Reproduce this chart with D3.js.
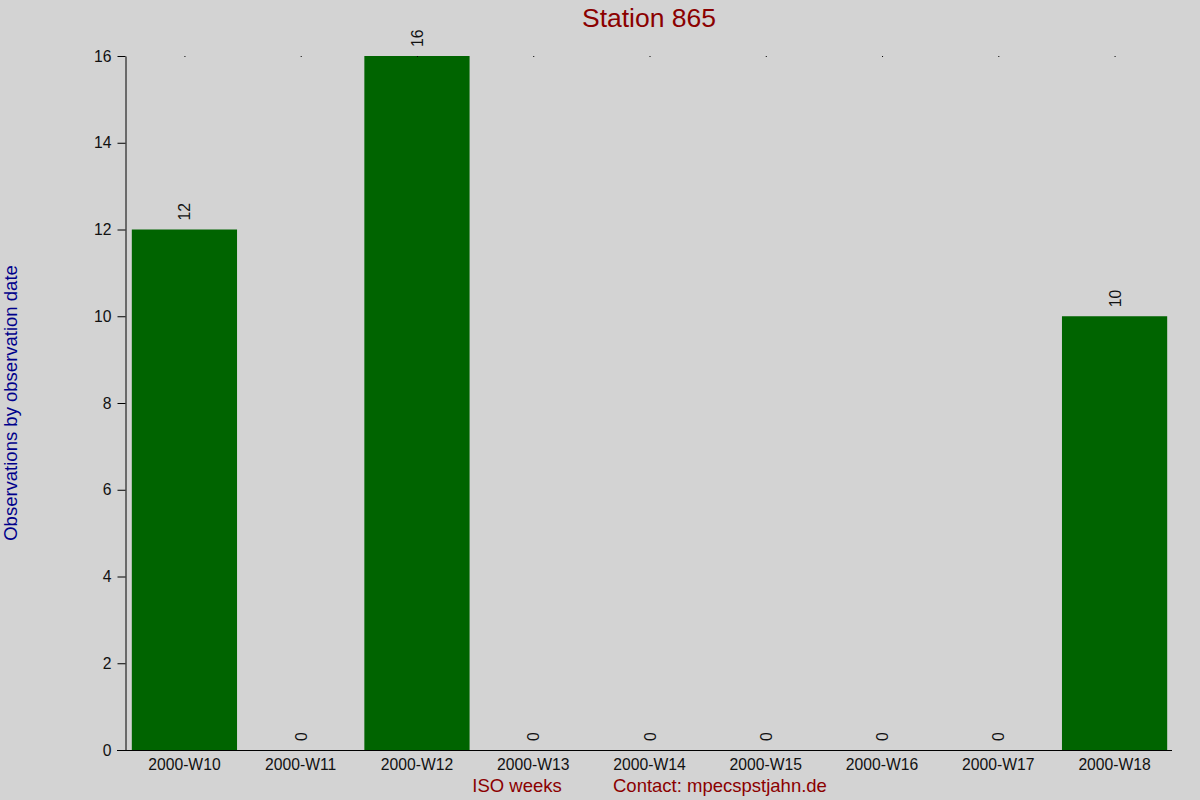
<!DOCTYPE html>
<html lang="en">
	<head>
		<meta charset="UTF-8">
		<title>Station 865</title>
		<script src="https://cdnjs.cloudflare.com/ajax/libs/d3/7.8.5/d3.min.js"></script>
		<style>
			body { margin: 0; background: lightgrey; }
			text { font-family: "Liberation Sans", Arial, sans-serif; }
		</style>
		<script>
var weeks = ["2000-W10", "2000-W11", "2000-W12", "2000-W13", "2000-W14", "2000-W15", "2000-W16", "2000-W17", "2000-W18"];
var counts = [12, 0, 16, 0, 0, 0, 0, 0, 10];
var yTicks = [0, 2, 4, 6, 8, 10, 12, 14, 16];

function makeChart() {
	var svg = d3.select("svg");

	var scX = d3.scaleBand().domain(weeks).range([126, 1173]).paddingInner(0.095).paddingOuter(0.05);
	var scY = d3.scaleLinear().domain([0, 16]).range([750, 56]);

	// bars
	svg.append("g").selectAll("rect").data(weeks).enter()
		.append("rect")
		.attr("x", d => scX(d))
		.attr("width", scX.bandwidth())
		.attr("y", (d, i) => scY(counts[i]))
		.attr("height", (d, i) => scY(0) - scY(counts[i]))
		.attr("fill", "#006400");

	// value labels
	svg.append("g").selectAll("text").data(weeks).enter()
		.append("text")
		.attr("transform", (d, i) => `translate(${scX(d) + scX.bandwidth() / 2 + 6},${scY(counts[i]) - 9}) rotate(-90)`)
		.attr("font-size", 15.7)
		.attr("fill", "#111")
		.text((d, i) => counts[i]);

	// tiny top ticks
	svg.append("g").selectAll("rect").data(weeks).enter()
		.append("rect")
		.attr("x", d => scX(d) + scX.bandwidth() / 2)
		.attr("y", scY(16))
		.attr("width", 1).attr("height", 1)
		.attr("fill", "black");

	// y axis
	var yAx = svg.append("g").attr("transform", "translate(125.5,0)")
		.call(d3.axisLeft(scY).tickValues(yTicks).tickSize(8).tickPadding(6).tickSizeOuter(0));
	yAx.select(".domain").attr("stroke", "black");
	yAx.selectAll("text").attr("font-size", 15.7).attr("font-family", "Liberation Sans, Arial, sans-serif").attr("fill", "#111");

	// x axis
	var xAx = svg.append("g").attr("transform", "translate(0,750.5)")
		.call(d3.axisBottom(scX).tickSize(0).tickPadding(8));
	xAx.select(".domain").attr("d", "M117,0H1172");
	xAx.selectAll("text").attr("font-size", 15.7).attr("font-family", "Liberation Sans, Arial, sans-serif").attr("fill", "#111");

	// titles
	svg.append("text").attr("x", 649).attr("y", 27).attr("text-anchor", "middle")
		.attr("font-size", 26.5).attr("fill", "#8b0000").text("Station 865");

	svg.append("text").attr("transform", "translate(17,403) rotate(-90)").attr("text-anchor", "middle")
		.attr("font-size", 18.5).attr("fill", "#00008b").text("Observations by observation date");

	svg.append("text").attr("x", 517).attr("y", 792).attr("text-anchor", "middle")
		.attr("font-size", 18.5).attr("fill", "#8b0000").text("ISO weeks");

	svg.append("text").attr("x", 613).attr("y", 792)
		.attr("font-size", 18.5).attr("fill", "#8b0000").text("Contact: mpecspstjahn.de");
}
		</script>
	</head>
	<body onload="makeChart()">
		<svg width="1200" height="800" style="background: lightgrey; display: block"></svg>
	</body>
</html>
